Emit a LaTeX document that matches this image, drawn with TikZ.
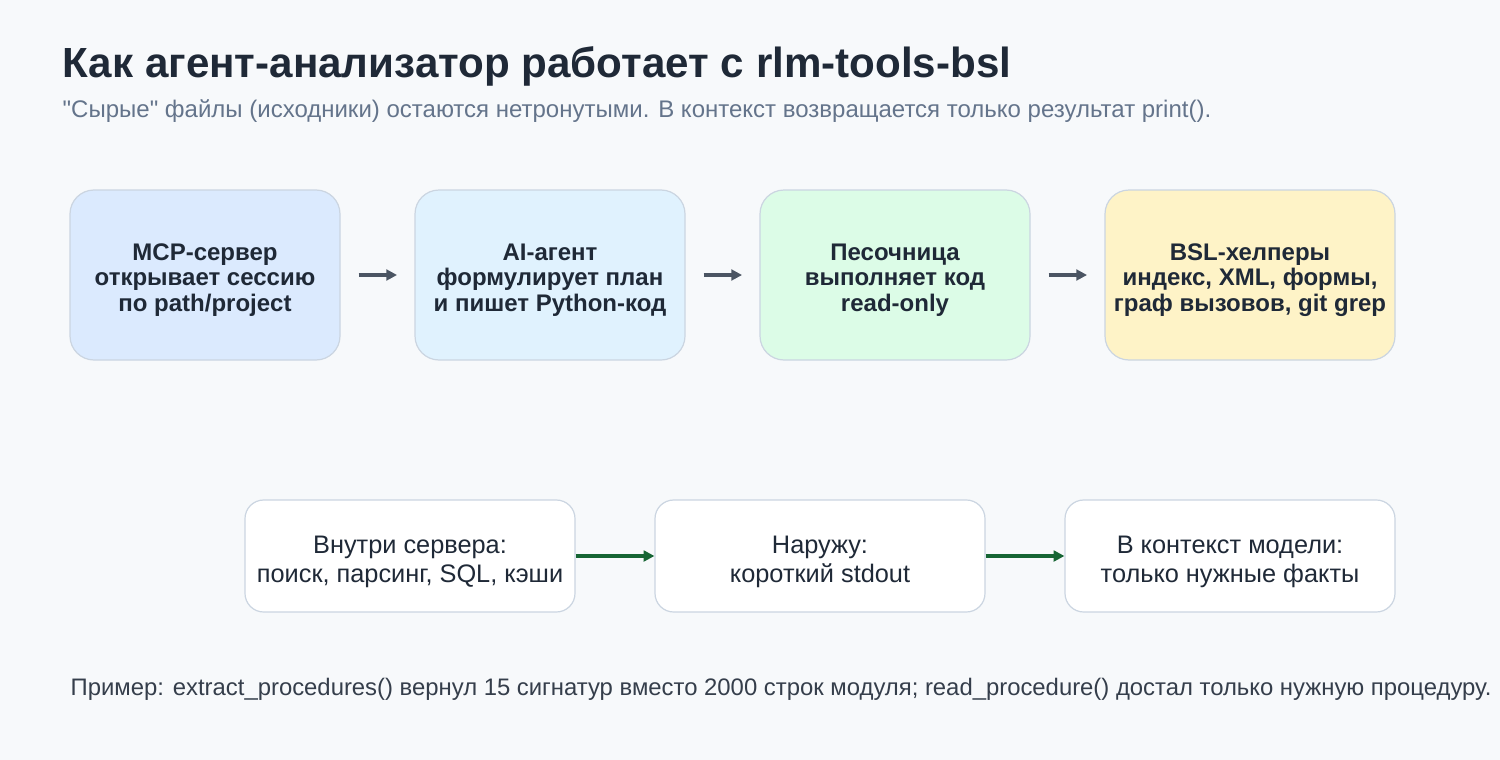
\documentclass[tikz,border=0pt]{standalone}
\usepackage{fontspec}
\setmainfont{Liberation Sans}
\usetikzlibrary{arrows.meta}
\definecolor{bg}{HTML}{F7F9FB}
\definecolor{txt}{HTML}{1F2937}
\definecolor{sub}{HTML}{64748B}
\definecolor{bord}{HTML}{CBD5E1}
\definecolor{cA}{HTML}{DBEAFE}
\definecolor{cB}{HTML}{E0F2FE}
\definecolor{cC}{HTML}{DCFCE7}
\definecolor{cD}{HTML}{FEF3C7}
\definecolor{garr}{HTML}{4B5563}
\definecolor{grn}{HTML}{166534}
\begin{document}
\begin{tikzpicture}[x=0.75pt,y=-0.75pt,
  top/.style={draw=bord,line width=0.9pt,rounded corners=18pt,minimum width=270*0.75pt,minimum height=170*0.75pt},
  toptxt/.style={align=center,font=\fontsize{18}{19}\selectfont\bfseries,text=txt},
  bot/.style={draw=bord,line width=0.9pt,fill=white,rounded corners=14pt,minimum width=330*0.75pt,minimum height=112*0.75pt},
  bottxt/.style={align=center,font=\fontsize{19}{22}\selectfont,text=txt},
  garrow/.style={-{Triangle[length=8pt,width=8pt]},draw=garr,line width=2.6pt},
  narrow/.style={-{Triangle[length=8pt,width=8pt]},draw=grn,line width=3pt}]
\fill[bg] (0,0) rectangle (1500,760);
\node[anchor=west,text=txt,font=\fontsize{31.6}{34}\selectfont\bfseries] (t) at (58,66) {Как агент-анализатор работает с rlm-tools-bsl};
\node[anchor=west,text=sub,font=\fontsize{18}{20}\selectfont] (s) at (58,111) {\textquotedbl Сырые\textquotedbl{} файлы (исходники) остаются нетронутыми. В контекст возвращается только результат print().};
\node[top,fill=cA] (a) at (205,275) {};
\node[top,fill=cB] (b) at (550,275) {};
\node[top,fill=cC] (c) at (895,275) {};
\node[top,fill=cD,minimum width=290*0.75pt] (d) at (1250,275) {};
\node[toptxt] (at) at (205,280) {MCP-сервер\\открывает сессию\\по path/project};
\node[toptxt] (bt) at (550,280) {AI-агент\\формулирует план\\и пишет Python-код};
\node[toptxt] (ct) at (895,280) {Песочница\\выполняет код\\read-only};
\node[toptxt] (dt) at (1250,280) {BSL-хелперы\\индекс, XML, формы,\\граф вызовов, git grep};
\draw[garrow] ([xshift=13.5pt]a.east) -- ([xshift=-13pt]b.west);
\draw[garrow] ([xshift=13.5pt]b.east) -- ([xshift=-13pt]c.west);
\draw[garrow] ([xshift=13.5pt]c.east) -- ([xshift=-13pt]d.west);
\node[bot] (e) at (410,556) {};
\node[bot] (f) at (820,556) {};
\node[bot] (g) at (1230,556) {};
\node[bottxt] (et) at (410,562) {Внутри сервера:\\поиск, парсинг, SQL, кэши};
\node[bottxt] (ft) at (820,562) {Наружу:\\короткий stdout};
\node[bottxt] (gt) at (1230,562) {В контекст модели:\\только нужные факты};
\draw[narrow] (e.east) -- (f.west);
\draw[narrow] (f.east) -- (g.west);
\node[anchor=west,text=txt!90,font=\fontsize{17.9}{20}\selectfont] (n) at (66,689) {Пример: extract\_procedures() вернул 15 сигнатур вместо 2000 строк модуля; read\_procedure() достал только нужную процедуру.};
\end{tikzpicture}
\end{document}
